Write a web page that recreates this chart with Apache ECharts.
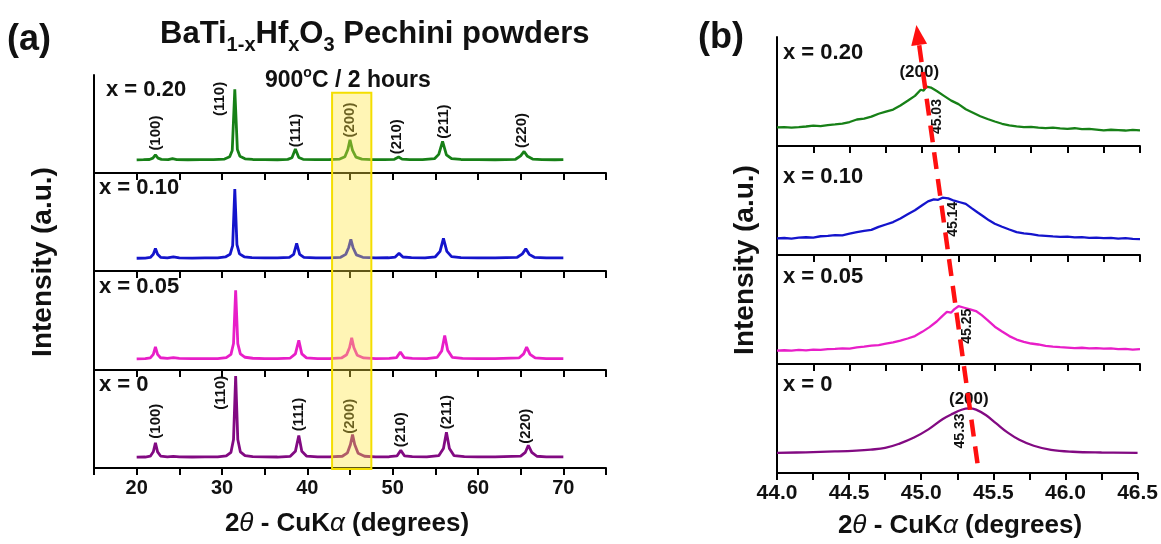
<!DOCTYPE html>
<html>
<head>
<meta charset="utf-8">
<script src="https://cdn.jsdelivr.net/npm/echarts/dist/echarts.min.js"></script>
<style>
  html, body { margin: 0; padding: 0; background: #ffffff; }
  #chart { width: 1161px; height: 544px; }
</style>
</head>
<body>
<div id="chart"></div>
<script>
// ---- Survey scans, 2θ = 20–70°, intensity in % of each stacked panel ----
const survey020 = [[20,13.4],[20.8,13.6],[21.5,13.8],[21.9,15.2],[22.2,18.5],[22.5,15.2],[22.9,13.9],[23.7,13.6],[24.2,14.6],[24.7,13.7],[26,13.5],[27.5,13.7],[29,13.6],[30.3,14.2],[30.9,16.5],[31.2,23],[31.5,85.4],[31.8,24],[32.1,17],[32.7,14.5],[33.6,13.8],[35,13.6],[36.5,13.5],[37.7,13.9],[38.2,15.5],[38.6,24.4],[39.0,15.8],[39.5,14],[41,13.6],[42.5,13.7],[43.8,14.2],[44.4,16.5],[44.75,24],[45.0,33.9],[45.3,23],[45.7,16.2],[46.4,14.1],[47.5,13.7],[49,13.6],[50.2,14],[50.7,16.3],[51.1,14.2],[52,13.7],[53.5,13.6],[54.9,14.6],[55.4,19],[55.85,32.2],[56.3,18.5],[56.9,14.6],[58,13.8],[60,13.6],[62,13.5],[64.4,14],[65.0,17.5],[65.4,22],[65.8,17],[66.4,14.2],[67.5,13.7],[69,13.5],[70,13.6]];
const survey010 = [[20,13],[21,13.2],[21.6,13.8],[21.95,17],[22.2,23],[22.45,17],[22.8,14],[23.6,13.3],[24.3,14.3],[25,13.3],[26.5,13.2],[28,13.4],[29.5,13.3],[30.4,14.3],[30.95,17],[31.25,26],[31.5,83.7],[31.75,27],[32.05,17.5],[32.6,14.5],[33.5,13.6],[35,13.4],[36.5,13.3],[37.9,13.9],[38.4,17],[38.75,28.1],[39.1,17],[39.6,14],[41,13.4],[42.5,13.3],[43.9,14],[44.5,17],[44.85,24],[45.1,32.2],[45.35,24],[45.75,16.5],[46.5,14],[48,13.4],[49.5,13.5],[50.3,14.2],[50.75,18],[51.2,14.3],[52.2,13.6],[53.8,13.4],[55,14.5],[55.55,20],[55.95,33.2],[56.35,20],[56.9,14.6],[58,13.7],[60,13.4],[62,13.3],[64.6,14],[65.2,17.5],[65.6,22.7],[66.0,17],[66.6,14],[68,13.4],[70,13.3]];
const survey005 = [[20,11.4],[21,11.6],[21.6,12.3],[21.95,16],[22.2,23.7],[22.45,16],[22.8,12.5],[23.6,11.8],[24.3,12.6],[25,11.8],[26.5,11.6],[28,11.7],[29.5,11.6],[30.5,12.6],[31.05,16],[31.35,27],[31.6,81.4],[31.85,27],[32.15,16.5],[32.7,13],[33.6,12],[35,11.7],[36.5,11.6],[38,12.2],[38.6,16.5],[39.0,30.2],[39.35,16.5],[39.9,12.4],[41.2,11.7],[42.6,11.7],[44.0,12.3],[44.6,15.5],[44.95,23],[45.2,32.9],[45.45,23],[45.85,15],[46.6,12.3],[48,11.7],[49.6,11.8],[50.45,12.6],[50.9,18.3],[51.35,12.6],[52.3,11.9],[54,11.7],[55.2,12.8],[55.75,19.5],[56.1,35.3],[56.45,20],[57,12.8],[58.2,11.9],[60,11.7],[62,11.6],[64.8,12.3],[65.35,16.5],[65.7,23.4],[66.1,16],[66.7,12.3],[68,11.7],[70,11.6]];
const survey000 = [[20,11],[21,11.2],[21.6,12],[21.95,16.5],[22.2,25.6],[22.45,16.5],[22.8,12.2],[23.6,11.4],[24.3,11.9],[25,11.4],[26.5,11.2],[28,11.3],[29.5,11.3],[30.5,12.3],[31.05,16],[31.35,29],[31.6,93.9],[31.85,29],[32.15,16.5],[32.7,12.6],[33.6,11.7],[35,11.3],[36.5,11.2],[38,11.9],[38.6,17],[39.0,33.1],[39.35,17],[39.9,12.2],[41.2,11.4],[42.6,11.3],[44.1,12],[44.7,15.5],[45.05,24],[45.3,34.1],[45.55,24],[45.95,15],[46.7,12],[48,11.4],[49.6,11.5],[50.5,12.3],[50.95,18],[51.4,12.3],[52.3,11.6],[54,11.4],[55.4,12.6],[55.95,20],[56.3,36.5],[56.65,20],[57.2,12.6],[58.4,11.6],[60,11.4],[62,11.3],[65.0,12.2],[65.55,16],[65.9,23.2],[66.3,16],[66.9,12],[68,11.4],[70,11.3]];

// ---- (200) reflection, 2θ = 44.0–46.5° ----
const zoom020 = [[44.00,17.0],[44.05,17.4],[44.10,16.8],[44.15,17.3],[44.20,17.9],[44.25,18.6],[44.30,18.2],[44.35,19.1],[44.40,19.8],[44.45,20.6],[44.50,22.0],[44.55,24.3],[44.60,25.1],[44.65,26.9],[44.70,29.6],[44.75,31.5],[44.80,33.4],[44.85,37.2],[44.90,41.5],[44.95,46.0],[44.99,51.6],[45.01,50.9],[45.03,54.5],[45.06,53.6],[45.10,50.4],[45.15,46.0],[45.20,41.6],[45.25,38.4],[45.30,33.7],[45.35,30.5],[45.40,27.3],[45.45,24.8],[45.50,22.5],[45.55,20.4],[45.60,19.0],[45.65,18.1],[45.70,17.3],[45.75,17.6],[45.80,16.8],[45.85,16.4],[45.90,16.9],[45.95,16.1],[46.00,15.8],[46.05,16.3],[46.10,15.5],[46.15,15.8],[46.20,15.1],[46.25,14.3],[46.30,14.9],[46.35,14.6],[46.40,14.2],[46.45,14.7],[46.50,14.3]];
const zoom010 = [[44.00,15.2],[44.05,15.6],[44.10,15.1],[44.15,15.9],[44.20,16.3],[44.25,16.0],[44.30,17.2],[44.35,17.6],[44.40,18.3],[44.45,18.0],[44.50,19.6],[44.55,20.9],[44.60,22.1],[44.65,23.0],[44.70,25.8],[44.75,28.0],[44.80,30.2],[44.85,33.5],[44.90,37.4],[44.95,41.0],[45.00,45.6],[45.04,49.2],[45.08,51.0],[45.11,50.6],[45.14,52.6],[45.18,52.0],[45.22,49.8],[45.26,48.4],[45.30,46.9],[45.34,43.0],[45.38,39.2],[45.42,35.6],[45.46,31.8],[45.50,28.7],[45.55,25.9],[45.60,23.4],[45.65,21.0],[45.70,19.8],[45.75,19.1],[45.80,18.0],[45.85,17.6],[45.90,17.0],[45.95,16.6],[46.00,16.9],[46.05,16.1],[46.10,16.4],[46.15,15.7],[46.20,15.9],[46.25,15.4],[46.30,15.8],[46.35,15.0],[46.40,15.4],[46.45,14.8],[46.50,14.6]];
const zoom005 = [[44.00,12.3],[44.05,12.6],[44.10,12.2],[44.15,12.9],[44.20,12.5],[44.25,13.2],[44.30,13.0],[44.35,13.6],[44.40,13.9],[44.45,14.4],[44.50,14.1],[44.55,15.2],[44.60,15.9],[44.65,16.8],[44.70,17.4],[44.75,18.6],[44.80,19.8],[44.85,21.5],[44.90,23.4],[44.95,25.6],[45.00,29.5],[45.05,33.8],[45.10,39.0],[45.14,44.2],[45.17,47.9],[45.20,47.2],[45.22,50.1],[45.25,53.0],[45.29,51.6],[45.33,50.2],[45.37,48.6],[45.41,44.8],[45.45,40.3],[45.50,34.2],[45.55,29.8],[45.60,25.6],[45.65,22.4],[45.70,20.3],[45.75,18.8],[45.80,17.9],[45.85,16.6],[45.90,16.0],[45.95,15.5],[46.00,15.1],[46.05,14.6],[46.10,14.9],[46.15,14.3],[46.20,14.6],[46.25,14.1],[46.30,14.3],[46.35,13.7],[46.40,13.9],[46.45,13.2],[46.50,13.6]];
const zoom000 = [[44.00,18.5],[44.20,19.0],[44.40,19.8],[44.55,20.6],[44.65,21.5],[44.75,23.0],[44.85,27.0],[44.95,32.5],[45.05,40.0],[45.15,49.5],[45.22,54.5],[45.28,58.0],[45.33,59.3],[45.38,58.2],[45.45,53.0],[45.52,45.5],[45.60,37.0],[45.68,30.5],[45.78,25.0],[45.90,21.2],[46.05,19.5],[46.25,18.8],[46.50,18.5]];

// ---- labels ----
const compositions = ['x = 0.20', 'x = 0.10', 'x = 0.05', 'x = 0'];
const hklNames = ['(100)', '(110)', '(111)', '(200)', '(210)', '(211)', '(220)'];
const hklAnchorTop = [[22.2, 40.7], [29.8, 75.6], [38.6, 43.4], [45.0, 54], [50.5, 37], [56.0, 52.5], [65.1, 43.4]];
const hklAnchorBottom = [[22.2, 47.8], [29.9, 76.8], [39.0, 54.6], [44.95, 52.9], [50.95, 39], [56.3, 57], [65.6, 42.7]];
const peakCentres = [45.03, 45.14, 45.25, 45.33];
const peakLabelAnchor = [[45.10, 27], [45.21, 32.7], [45.31, 34.6], [45.27, 38.6]];
const surveyTicks = [20, 30, 40, 50, 60, 70];

const FONT = '"Liberation Sans", Arial, Helvetica, sans-serif';
const INK = '#111111';
const lineColors = ['#178017', '#1414cc', '#e81ec8', '#820a82'];
const surveySets = [survey020, survey010, survey005, survey000];
const zoomSets = [zoom020, zoom010, zoom005, zoom000];

const chart = echarts.init(document.getElementById('chart'), null, { renderer: 'canvas' });

const gridsA = [75, 173, 272, 370].map(top => ({ left: 94, width: 512, top, height: 98 }));
const gridsB = [37, 146, 255, 364].map(top => ({ left: 777, width: 363, top, height: 109 }));

function xAxisFor(gridIndex, min, max, interval, showLabels, formatter, fontSize) {
  return {
    type: 'value', gridIndex, min, max, interval,
    axisLine: { show: true, onZero: false, lineStyle: { color: '#000', width: 2 } },
    axisTick: { show: true, inside: false, length: 7, lineStyle: { color: '#000', width: 2 } },
    splitLine: { show: false },
    axisLabel: { show: showLabels, formatter, color: INK, fontFamily: FONT, fontWeight: 'bold', fontSize, margin: 10 }
  };
}
function yAxisFor(gridIndex) {
  return {
    type: 'value', gridIndex, min: 0, max: 100,
    axisLine: { show: true, onZero: false, lineStyle: { color: '#000', width: 2 } },
    axisTick: { show: false }, axisLabel: { show: false }, splitLine: { show: false }
  };
}
const fmtSurvey = v => (surveyTicks.indexOf(v) >= 0 ? String(v) : '');
const fmtZoom = v => (Math.abs(v * 2 - Math.round(v * 2)) < 1e-6 ? v.toFixed(1) : '');

const xAxes = [], yAxes = [];
for (let i = 0; i < 4; i++) { xAxes.push(xAxisFor(i, 15, 75, 5, i === 3, fmtSurvey, 20)); yAxes.push(yAxisFor(i)); }
for (let i = 0; i < 4; i++) { xAxes.push(xAxisFor(4 + i, 44, 46.5, 0.25, i === 3, fmtZoom, 21)); yAxes.push(yAxisFor(4 + i)); }

const series = [];
surveySets.forEach((d, i) => series.push({
  type: 'line', xAxisIndex: i, yAxisIndex: i, data: d, symbol: 'none', silent: true,
  lineStyle: { color: lineColors[i], width: 2.8 }, z: 3
}));
zoomSets.forEach((d, i) => series.push({
  type: 'line', xAxisIndex: 4 + i, yAxisIndex: 4 + i, data: d, symbol: 'none', silent: true,
  smooth: i === 3 ? 0.4 : false,
  lineStyle: { color: lineColors[i], width: 2.3 }, z: 3
}));

chart.setOption({
  animation: false,
  backgroundColor: '#ffffff',
  grid: gridsA.concat(gridsB),
  xAxis: xAxes,
  yAxis: yAxes,
  series
});

// ---- annotation text laid out run by run (sub/superscripts, italic symbols) ----
const measureCtx = document.createElement('canvas').getContext('2d');
function fontOf(p) { return (p.italic ? 'italic ' : 'normal ') + (p.weight || 'bold') + ' ' + p.size + 'px ' + FONT; }
function runText(anchorX, baseline, parts, align) {
  const widths = parts.map(p => { measureCtx.font = fontOf(p); return measureCtx.measureText(p.text).width; });
  const total = widths.reduce((a, b) => a + b, 0);
  let x = align === 'center' ? anchorX - total / 2 : anchorX;
  const out = [];
  parts.forEach((p, k) => {
    out.push({ type: 'text', x, y: baseline + (p.dy || 0) - 0.35 * p.size, z: 200,
      style: { text: p.text, font: fontOf(p), fill: INK, align: 'left', verticalAlign: 'middle' } });
    x += widths[k];
  });
  return out;
}
function plainText(x, y, text, size, align, rotation, z) {
  return { type: 'text', x, y, rotation: rotation || 0, z: z || 200,
    style: { text, font: 'normal bold ' + size + 'px ' + FONT, fill: INK, align: align || 'left', verticalAlign: 'middle' } };
}
// text placed at a data position of a given grid
function dataText(gridIndex, value, text, size, rotation) {
  const p = chart.convertToPixel({ gridIndex }, value);
  return plainText(p[0], p[1], text, size, 'center', rotation, 120);
}

const graphics = [];
graphics.push(plainText(7, 40, '(a)', 36));
graphics.push(plainText(698, 38, '(b)', 36));
graphics.push(...runText(160, 45, [
  { text: 'BaTi', size: 31 }, { text: '1-x', size: 20, dy: 7 }, { text: 'Hf', size: 31 },
  { text: 'x', size: 20, dy: 7 }, { text: 'O', size: 31 }, { text: '3', size: 20, dy: 7 },
  { text: ' Pechini powders', size: 31 }]));
graphics.push(...runText(265, 89, [
  { text: '900', size: 23 }, { text: 'o', size: 14, dy: -11 }, { text: 'C / 2 hours', size: 23 }]));
const axisTitle = [
  { text: '2', size: 26 }, { text: 'θ', size: 26, italic: true, weight: 'normal' },
  { text: ' - CuK', size: 26 }, { text: 'α', size: 26, italic: true, weight: 'normal' },
  { text: ' (degrees)', size: 26 }];
graphics.push(...runText(347, 533, axisTitle, 'center'));
graphics.push(...runText(960, 535, axisTitle, 'center'));
graphics.push(plainText(43, 262, 'Intensity (a.u.)', 28, 'center', Math.PI / 2));
graphics.push(plainText(745, 260, 'Intensity (a.u.)', 28, 'center', Math.PI / 2));
const compLeftA = [106, 99, 99, 99];
compositions.forEach((c, i) => {
  graphics.push(plainText(compLeftA[i], gridsA[i].top + 15, c, 22));
  graphics.push(plainText(783, gridsB[i].top + [16, 31, 22, 21][i], c, 22));
});

// Miller indices over the x = 0.20 and x = 0 scans
hklNames.forEach((n, k) => {
  graphics.push(dataText(0, hklAnchorTop[k], n, 15, Math.PI / 2));
  graphics.push(dataText(3, hklAnchorBottom[k], n, 15, Math.PI / 2));
});
// (200) peak positions in the enlarged window
peakCentres.forEach((c, i) => graphics.push(dataText(4 + i, peakLabelAnchor[i], c.toFixed(2), 14, Math.PI / 2)));
graphics.push(dataText(4, [44.98, 68], '(200)', 17, 0));
graphics.push(dataText(7, [45.33, 68], '(200)', 17, 0));

// highlighted (200) window across the survey scans
const bx0 = chart.convertToPixel({ xAxisIndex: 0 }, 42.9);
const bx1 = chart.convertToPixel({ xAxisIndex: 0 }, 47.5);
const by0 = chart.convertToPixel({ yAxisIndex: 0 }, 82);
const by1 = chart.convertToPixel({ yAxisIndex: 3 }, 0) + 1;
graphics.push({ type: 'rect', z: 150, shape: { x: bx0, y: by0, width: bx1 - bx0, height: by1 - by0 },
  style: { fill: 'rgba(255,228,60,0.38)', stroke: '#f4de00', lineWidth: 2 } });

// peak-shift arrow through the (200) maxima
const pBot = chart.convertToPixel({ gridIndex: 7 }, [45.39, 9]);
const pTip = chart.convertToPixel({ gridIndex: 4 }, [44.96, 111]);
const dx = pTip[0] - pBot[0], dy = pTip[1] - pBot[1];
const len = Math.hypot(dx, dy), ux = dx / len, uy = dy / len;
const headLen = 20, headHalf = 8;
const baseX = pTip[0] - ux * headLen, baseY = pTip[1] - uy * headLen;
graphics.push({ type: 'line', z: 160, shape: { x1: pBot[0], y1: pBot[1], x2: baseX, y2: baseY },
  style: { stroke: '#ff1010', lineWidth: 4.5, lineDash: [17, 10] } });
graphics.push({ type: 'polygon', z: 160, shape: { points: [
    [pTip[0], pTip[1]],
    [baseX - uy * headHalf, baseY + ux * headHalf],
    [baseX + uy * headHalf, baseY - ux * headHalf]] },
  style: { fill: '#ff1010' } });

chart.setOption({ graphic: graphics });
</script>
</body>
</html>
